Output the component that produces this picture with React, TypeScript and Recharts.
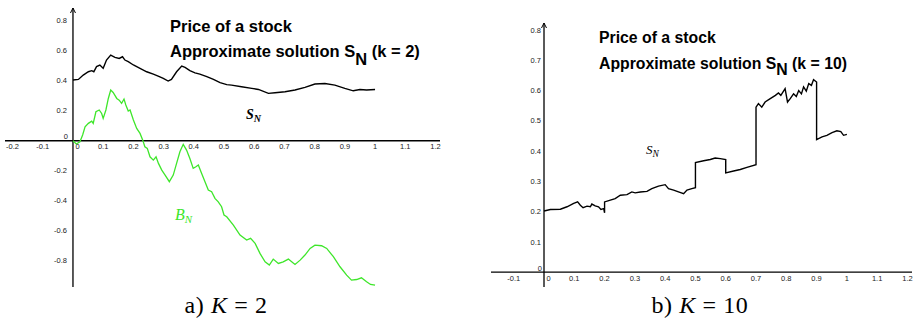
import React from 'react';
import { LineChart, Line, XAxis, YAxis, ReferenceLine, ReferenceDot } from 'recharts';

// a) K = 2 : price S_N and Brownian path B_N
const s2Time = [0, 0.018, 0.034, 0.051, 0.062, 0.069, 0.078, 0.089, 0.1, 0.111, 0.125, 0.139, 0.153, 0.164, 0.172, 0.183, 0.2, 0.222, 0.244, 0.266, 0.282, 0.299, 0.315, 0.326, 0.343, 0.36, 0.371, 0.387, 0.404, 0.42, 0.443, 0.465, 0.487, 0.509, 0.525, 0.558, 0.592, 0.614, 0.647, 0.669, 0.702, 0.735, 0.768, 0.801, 0.834, 0.867, 0.9, 0.928, 0.95, 0.972, 1];
const s2Price = [0.405, 0.409, 0.438, 0.46, 0.467, 0.46, 0.494, 0.505, 0.483, 0.538, 0.571, 0.556, 0.549, 0.56, 0.538, 0.527, 0.505, 0.483, 0.46, 0.444, 0.431, 0.416, 0.398, 0.409, 0.46, 0.498, 0.489, 0.467, 0.453, 0.444, 0.427, 0.409, 0.387, 0.374, 0.371, 0.36, 0.349, 0.342, 0.316, 0.32, 0.327, 0.338, 0.356, 0.378, 0.382, 0.371, 0.349, 0.333, 0.342, 0.338, 0.342];

const b2Time = [0, 0.011, 0.023, 0.032, 0.04, 0.051, 0.062, 0.067, 0.076, 0.087, 0.095, 0.1, 0.109, 0.117, 0.125, 0.133, 0.145, 0.153, 0.161, 0.169, 0.175, 0.183, 0.189, 0.2, 0.211, 0.222, 0.231, 0.238, 0.246, 0.255, 0.266, 0.275, 0.283, 0.294, 0.305, 0.319, 0.332, 0.343, 0.354, 0.365, 0.376, 0.387, 0.398, 0.407, 0.415, 0.426, 0.437, 0.448, 0.459, 0.47, 0.481, 0.492, 0.5, 0.509, 0.531, 0.553, 0.575, 0.588, 0.603, 0.619, 0.636, 0.65, 0.663, 0.68, 0.696, 0.713, 0.724, 0.735, 0.752, 0.768, 0.785, 0.801, 0.823, 0.84, 0.862, 0.884, 0.906, 0.922, 0.939, 0.955, 0.972, 0.985, 1];
const b2Value = [0, -0.022, -0.007, 0.038, 0.093, 0.116, 0.131, 0.116, 0.193, 0.205, 0.182, 0.149, 0.205, 0.282, 0.338, 0.322, 0.282, 0.271, 0.249, 0.278, 0.238, 0.198, 0.205, 0.138, 0.082, 0.049, 0.004, -0.04, -0.051, -0.107, -0.129, -0.107, -0.151, -0.196, -0.229, -0.273, -0.229, -0.151, -0.073, -0.024, -0.062, -0.118, -0.184, -0.173, -0.162, -0.218, -0.273, -0.329, -0.34, -0.384, -0.407, -0.44, -0.495, -0.507, -0.562, -0.629, -0.662, -0.651, -0.684, -0.751, -0.807, -0.829, -0.789, -0.818, -0.807, -0.789, -0.807, -0.825, -0.796, -0.762, -0.718, -0.696, -0.7, -0.718, -0.773, -0.84, -0.896, -0.929, -0.925, -0.914, -0.94, -0.958, -0.962];

// b) K = 10 : price S_N with jumps
const s10Time = [0, 0.021, 0.054, 0.076, 0.098, 0.111, 0.12, 0.129, 0.142, 0.153, 0.158, 0.169, 0.18, 0.188, 0.197, 0.2, 0.2, 0.219, 0.235, 0.252, 0.274, 0.29, 0.301, 0.318, 0.34, 0.356, 0.378, 0.4, 0.411, 0.428, 0.444, 0.461, 0.472, 0.488, 0.5, 0.5, 0.527, 0.549, 0.565, 0.582, 0.6, 0.6, 0.626, 0.648, 0.67, 0.7, 0.7, 0.708, 0.719, 0.73, 0.747, 0.764, 0.774, 0.782, 0.796, 0.804, 0.813, 0.824, 0.833, 0.841, 0.85, 0.857, 0.866, 0.874, 0.883, 0.89, 0.9, 0.9, 0.918, 0.934, 0.951, 0.967, 0.98, 0.989, 1];
const s10Price = [0.202, 0.207, 0.208, 0.216, 0.227, 0.232, 0.221, 0.213, 0.218, 0.216, 0.225, 0.219, 0.216, 0.207, 0.21, 0.196, 0.232, 0.238, 0.243, 0.254, 0.256, 0.265, 0.262, 0.265, 0.267, 0.276, 0.284, 0.289, 0.276, 0.271, 0.265, 0.259, 0.271, 0.276, 0.279, 0.362, 0.368, 0.372, 0.377, 0.375, 0.372, 0.328, 0.334, 0.339, 0.346, 0.355, 0.545, 0.557, 0.545, 0.562, 0.573, 0.584, 0.592, 0.584, 0.606, 0.562, 0.573, 0.589, 0.58, 0.6, 0.589, 0.612, 0.598, 0.623, 0.617, 0.636, 0.628, 0.438, 0.447, 0.452, 0.461, 0.467, 0.464, 0.452, 0.455];

const leftXTicks = [-0.2, -0.1, 0.1, 0.2, 0.3, 0.4, 0.5, 0.6, 0.7, 0.8, 0.9, 1, 1.1, 1.2];
const leftYTicks = [-0.8, -0.6, -0.4, -0.2, 0.2, 0.4, 0.6, 0.8];
const rightXTicks = [-0.1, 0.1, 0.2, 0.3, 0.4, 0.5, 0.6, 0.7, 0.8, 0.9, 1, 1.1, 1.2];
const rightYTicks = [0.1, 0.2, 0.3, 0.4, 0.5, 0.6, 0.7, 0.8];

const toPoints = (t: number[], v: number[]) => t.map((x, i) => ({ t: x, v: v[i] }));
const fmt = (v: number) => String(Math.round(v * 10) / 10);

const SANS = 'Liberation Sans, Arial, sans-serif';
const SERIF = 'Liberation Serif, Times New Roman, serif';
const TICK = '#222';
const GREEN = '#3ee62a';

const xLabel = (text: string) => (p: any) => (
  <text x={p.cx} y={p.cy + 8.5} textAnchor="middle" fontSize={7.5} fill={TICK} fontFamily={SANS}>{text}</text>
);
const yLabel = (text: string, gap: number) => (p: any) => (
  <text x={p.cx - gap} y={p.cy + 2.7} textAnchor="end" fontSize={7.5} fill={TICK} fontFamily={SANS}>{text}</text>
);
const originLabels = (gap: number) => (p: any) => (
  <g fontSize={7.5} fill={TICK} fontFamily={SANS}>
    <text x={p.cx - gap + 1} y={p.cy - 1.5} textAnchor="end">0</text>
    <text x={p.cx + 2.5} y={p.cy + 8.5}>0</text>
  </g>
);
const arrowUp = (p: any) => (
  <path d={`M${p.cx - 2.5},${p.cy + 5}L${p.cx},${p.cy}L${p.cx + 2.5},${p.cy + 5}`} stroke="#000" fill="none" strokeWidth={1} />
);

interface PanelProps {
  xDomain: [number, number];
  yDomain: [number, number];
  xTicks: number[];
  yTicks: number[];
  gap: number;
  margin: { top: number; right: number; bottom: number; left: number };
  width: number;
  children: React.ReactNode;
}

const Panel: React.FC<PanelProps> = ({ xDomain, yDomain, xTicks, yTicks, gap, margin, width, children }) => (
  <LineChart width={width} height={300} margin={margin}>
    <XAxis type="number" dataKey="t" domain={xDomain} hide allowDataOverflow />
    <YAxis type="number" dataKey="v" domain={yDomain} hide allowDataOverflow />
    <ReferenceLine y={0} stroke="#000" strokeWidth={1.3} />
    <ReferenceLine x={0} stroke="#000" strokeWidth={1.3} />
    <ReferenceDot x={0} y={yDomain[1]} r={0} shape={arrowUp} />
    {xTicks.map(v => (
      <ReferenceDot key={'x' + v} x={v} y={0} r={0} shape={xLabel(fmt(v))} />
    ))}
    {yTicks.map(v => (
      <ReferenceDot key={'y' + v} x={0} y={v} r={0} shape={yLabel(fmt(v), gap)} />
    ))}
    <ReferenceDot x={0} y={0} r={0} shape={originLabels(gap)} />
    {children}
  </LineChart>
);

export default function App() {
  const s2 = toPoints(s2Time, s2Price);
  const b2 = toPoints(b2Time, b2Value);
  const s10 = toPoints(s10Time, s10Price);

  return (
    <div style={{ position: 'absolute', left: 0, top: 0, width: 913, height: 325, background: '#fff', overflow: 'hidden' }}>
      <div style={{ position: 'absolute', left: 0, top: 0 }}>
        <Panel xDomain={[-0.225, 1.215]} yDomain={[-0.975, 0.885]} xTicks={leftXTicks} yTicks={leftYTicks}
          gap={6} width={450} margin={{ top: 8, right: 10, bottom: 13, left: 5 }}>
          <Line data={b2} dataKey="v" type="linear" stroke={GREEN} strokeWidth={1.3} dot={false} isAnimationActive={false} />
          <Line data={s2} dataKey="v" type="linear" stroke="#000" strokeWidth={1.4} dot={false} isAnimationActive={false} />
        </Panel>
      </div>
      <div style={{ position: 'absolute', left: 470, top: 0 }}>
        <Panel xDomain={[-0.175, 1.215]} yDomain={[-0.049, 0.823]} xTicks={rightXTicks} yTicks={rightYTicks}
          gap={3} width={443} margin={{ top: 23, right: 1, bottom: 13, left: 21 }}>
          <Line data={s10} dataKey="v" type="linear" stroke="#000" strokeWidth={1.4} dot={false} isAnimationActive={false} />
        </Panel>
      </div>
      <svg width={913} height={325} style={{ position: 'absolute', left: 0, top: 0, pointerEvents: 'none' }}>
        <g fontFamily={SANS} fontWeight="bold" fill="#000">
          <text x={170} y={32.3} fontSize={16.5}>Price of a stock</text>
          <text x={170} y={56.7} fontSize={16.5}>
            Approximate solution S<tspan dy={8}>N</tspan><tspan dy={-8}> (k = 2)</tspan>
          </text>
          <text x={599} y={42.7} fontSize={15.8}>Price of a stock</text>
          <text x={599} y={69.3} fontSize={15.8}>
            Approximate solution S<tspan dy={6}>N</tspan><tspan dy={-6}> (k = 10)</tspan>
          </text>
        </g>
        <g fontFamily={SERIF} fontStyle="italic">
          <text x={246} y={119.3} fontSize={14} fontWeight="bold" fill="#000">
            S<tspan dy={2.5} fontSize={10}>N</tspan>
          </text>
          <text x={175} y={220} fontSize={16} fill={GREEN}>
            B<tspan dy={2.7} fontSize={11}>N</tspan>
          </text>
          <text x={646} y={154} fontSize={13} fill="#000">
            S<tspan dy={2.5} fontSize={9.5}>N</tspan>
          </text>
        </g>
        <g fontFamily={SERIF} fontSize={24} fill="#000" textAnchor="middle" letterSpacing={0.6}>
          <text x={226} y={313}>a) <tspan fontStyle="italic">K</tspan> = 2</text>
          <text x={700} y={313}>b) <tspan fontStyle="italic">K</tspan> = 10</text>
        </g>
      </svg>
    </div>
  );
}
